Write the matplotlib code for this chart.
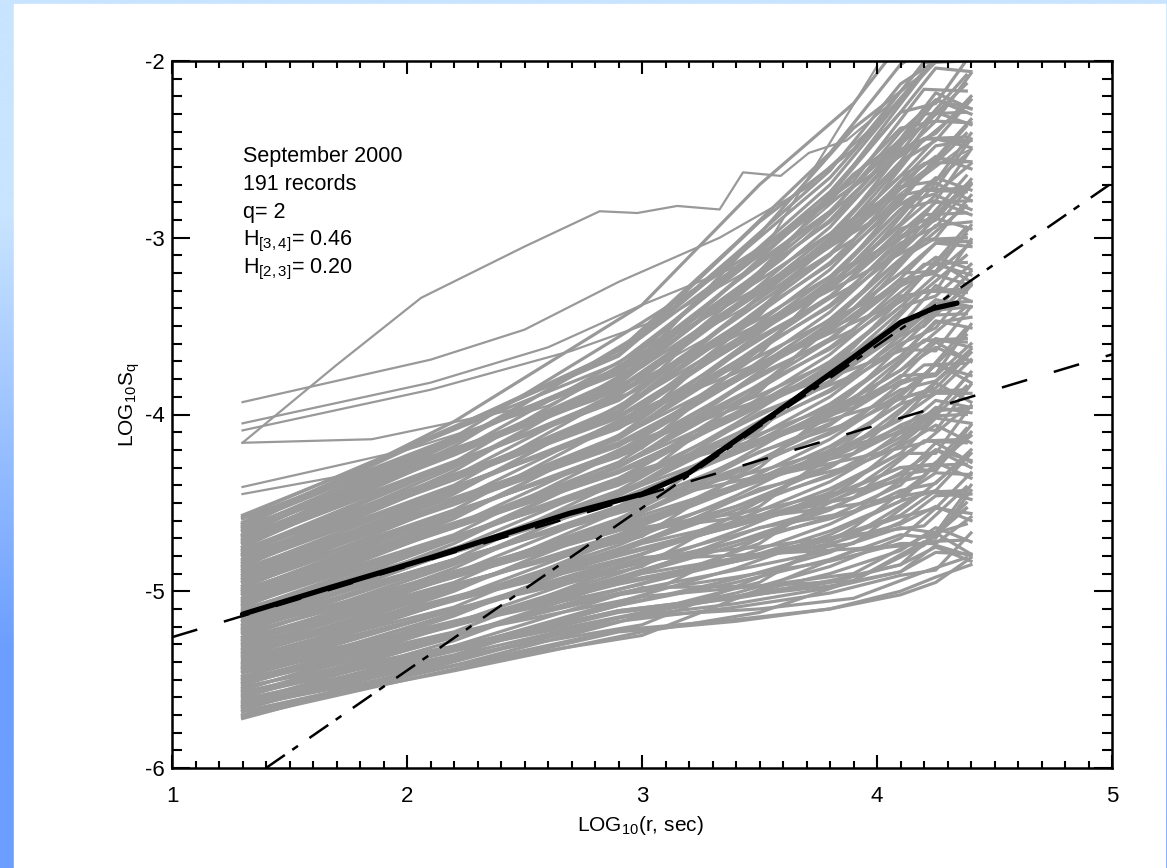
import matplotlib.pyplot as plt
import numpy as np
from matplotlib.patches import Rectangle

plt.rcParams["font.family"] = ["Liberation Sans", "DejaVu Sans"]
plt.rcParams["mathtext.fontset"] = "custom"
plt.rcParams["mathtext.rm"] = "Liberation Sans"
plt.rcParams["mathtext.it"] = "Liberation Sans:italic"
plt.rcParams["lines.scale_dashes"] = False
plt.rcParams["axes.unicode_minus"] = False

# Structure-function curves, LOG10 S_q read at these LOG10(r) knots
record_x = [1.3, 2.9, 3.4, 3.8, 4.1, 4.25, 4.4]

records_low = [
    [-5.72, -5.15, -5.01, -4.86, -4.70, -4.53, -4.56],
    [-5.71, -5.23, -5.17, -5.10, -5.02, -4.95, -4.81],
    [-5.70, -5.15, -5.03, -4.90, -4.77, -4.64, -4.72],
    [-5.68, -5.22, -5.16, -5.10, -5.00, -4.92, -4.85],
    [-5.67, -5.06, -4.87, -4.68, -4.49, -4.27, -4.36],
    [-5.66, -5.17, -5.09, -5.01, -4.91, -4.88, -4.67],
    [-5.65, -5.08, -4.93, -4.78, -4.61, -4.46, -4.45],
    [-5.64, -5.15, -5.07, -4.98, -4.89, -4.74, -4.80],
    [-5.63, -5.08, -4.95, -4.82, -4.68, -4.70, -4.43],
    [-5.62, -5.12, -5.04, -4.95, -4.85, -4.75, -4.83],
    [-5.60, -4.99, -4.81, -4.62, -4.43, -4.39, -4.20],
    [-5.59, -5.11, -5.03, -4.94, -4.85, -4.67, -4.79],
    [-5.58, -4.99, -4.83, -4.66, -4.49, -4.43, -4.22],
    [-5.57, -5.11, -5.03, -4.97, -4.89, -4.78, -4.79],
    [-5.56, -4.90, -4.66, -4.44, -4.22, -4.02, -4.05],
    [-5.55, -5.01, -4.88, -4.77, -4.64, -4.67, -4.40],
    [-5.53, -4.92, -4.72, -4.54, -4.33, -4.20, -4.26],
    [-5.52, -5.02, -4.92, -4.83, -4.73, -4.73, -4.58],
    [-5.51, -4.93, -4.74, -4.58, -4.40, -4.20, -4.30],
    [-5.50, -4.96, -4.83, -4.71, -4.58, -4.53, -4.33],
    [-5.49, -4.84, -4.60, -4.38, -4.15, -3.98, -3.96],
    [-5.48, -4.95, -4.82, -4.70, -4.57, -4.43, -4.48],
    [-5.46, -4.83, -4.62, -4.42, -4.22, -4.22, -3.95],
    [-5.45, -4.95, -4.83, -4.73, -4.62, -4.52, -4.60],
    [-5.44, -4.74, -4.46, -4.20, -3.94, -3.88, -3.69],
    [-5.43, -4.86, -4.68, -4.53, -4.36, -4.16, -4.27],
    [-5.42, -4.76, -4.52, -4.30, -4.06, -3.98, -3.76],
    [-5.41, -4.87, -4.72, -4.59, -4.46, -4.33, -4.34],
    [-5.40, -4.77, -4.54, -4.34, -4.13, -3.96, -3.99],
    [-5.38, -4.80, -4.63, -4.47, -4.30, -4.32, -4.06],
    [-5.37, -4.68, -4.40, -4.14, -3.88, -3.72, -3.78],
    [-5.36, -4.79, -4.62, -4.46, -4.30, -4.28, -4.12],
    [-5.35, -4.68, -4.42, -4.18, -3.94, -3.71, -3.82],
]

records_mid = [
    [-5.34, -4.79, -4.63, -4.49, -4.34, -4.31, -4.10],
    [-5.33, -4.59, -4.26, -3.96, -3.67, -3.48, -3.45],
    [-5.31, -4.70, -4.48, -4.29, -4.09, -3.92, -3.96],
    [-5.30, -4.60, -4.32, -4.06, -3.78, -3.77, -3.49],
    [-5.29, -4.71, -4.52, -4.35, -4.18, -4.06, -4.16],
    [-5.28, -4.61, -4.33, -4.10, -3.86, -3.81, -3.63],
    [-5.27, -4.65, -4.42, -4.23, -4.03, -3.82, -3.93],
    [-5.26, -4.52, -4.19, -3.90, -3.60, -3.51, -3.27],
    [-5.24, -4.64, -4.41, -4.22, -4.02, -3.88, -3.88],
    [-5.23, -4.52, -4.21, -3.94, -3.67, -3.47, -3.51],
    [-5.22, -4.63, -4.42, -4.25, -4.07, -4.09, -3.83],
    [-5.21, -4.43, -4.05, -3.72, -3.39, -3.21, -3.27],
    [-5.20, -4.54, -4.27, -4.05, -3.81, -3.78, -3.60],
    [-5.19, -4.45, -4.11, -3.82, -3.50, -3.27, -3.36],
    [-5.17, -4.55, -4.31, -4.11, -3.91, -3.85, -3.65],
    [-5.16, -4.46, -4.13, -3.86, -3.58, -3.41, -3.39],
    [-5.15, -4.49, -4.22, -3.99, -3.75, -3.57, -3.62],
    [-5.14, -4.37, -3.99, -3.66, -3.33, -3.30, -3.01],
    [-5.13, -4.48, -4.21, -3.98, -3.75, -3.62, -3.70],
    [-5.12, -4.36, -4.01, -3.70, -3.39, -3.33, -3.15],
    [-5.11, -4.48, -4.22, -4.01, -3.79, -3.59, -3.70],
    [-5.09, -4.27, -3.85, -3.48, -3.12, -3.00, -2.76],
    [-5.08, -4.39, -4.07, -3.81, -3.54, -3.37, -3.36],
    [-5.07, -4.29, -3.91, -3.58, -3.23, -3.03, -3.05],
    [-5.06, -4.40, -4.11, -3.87, -3.63, -3.64, -3.39],
    [-5.05, -4.30, -3.93, -3.62, -3.31, -3.15, -3.21],
    [-5.04, -4.33, -4.02, -3.75, -3.48, -3.43, -3.26],
    [-5.02, -4.21, -3.79, -3.42, -3.05, -2.79, -2.87],
    [-5.01, -4.32, -4.01, -3.74, -3.47, -3.40, -3.19],
    [-5.00, -4.21, -3.81, -3.46, -3.12, -2.93, -2.91],
    [-4.99, -4.32, -4.01, -3.77, -3.52, -3.35, -3.39],
    [-4.98, -4.12, -3.64, -3.24, -2.84, -2.79, -2.50],
    [-4.97, -4.23, -3.86, -3.57, -3.26, -3.11, -3.18],
]

records_high = [
    [-4.95, -4.13, -3.70, -3.34, -2.95, -2.88, -2.69],
    [-4.94, -4.24, -3.90, -3.63, -3.36, -3.13, -3.25],
    [-4.93, -4.14, -3.72, -3.38, -3.03, -2.94, -2.70],
    [-4.92, -4.18, -3.81, -3.51, -3.20, -3.03, -3.02],
    [-4.91, -4.05, -3.58, -3.18, -2.78, -2.55, -2.57],
    [-4.90, -4.17, -3.80, -3.50, -3.20, -3.19, -2.93],
    [-4.88, -4.05, -3.60, -3.22, -2.84, -2.66, -2.73],
    [-4.87, -4.16, -3.81, -3.53, -3.24, -3.20, -3.03],
    [-4.86, -3.96, -3.44, -3.00, -2.57, -2.29, -2.36],
    [-4.85, -4.07, -3.66, -3.33, -2.99, -2.90, -2.67],
    [-4.84, -3.98, -3.50, -3.10, -2.68, -2.48, -2.45],
    [-4.83, -4.08, -3.70, -3.39, -3.08, -2.89, -2.95],
    [-4.82, -3.99, -3.52, -3.14, -2.76, -2.72, -2.44],
    [-4.80, -4.02, -3.61, -3.27, -2.93, -2.76, -2.84],
    [-4.79, -3.89, -3.38, -2.94, -2.50, -2.41, -2.20],
    [-4.78, -4.01, -3.60, -3.26, -2.92, -2.69, -2.79],
    [-4.77, -3.89, -3.40, -2.98, -2.57, -2.45, -2.22],
    [-4.76, -4.01, -3.61, -3.29, -2.97, -2.80, -2.79],
    [-4.75, -3.80, -3.24, -2.76, -2.29, -2.04, -2.06],
    [-4.73, -3.92, -3.46, -3.09, -2.71, -2.68, -2.41],
    [-4.72, -3.82, -3.30, -2.86, -2.40, -2.22, -2.27],
    [-4.71, -3.92, -3.50, -3.15, -2.81, -2.75, -2.58],
    [-4.70, -3.83, -3.31, -2.90, -2.48, -2.22, -2.30],
    [-4.69, -3.86, -3.40, -3.03, -2.65, -2.55, -2.33],
    [-4.68, -3.74, -3.17, -2.70, -2.22, -2.00, -1.97],
    [-4.66, -3.85, -3.39, -3.02, -2.65, -2.44, -2.49],
    [-4.65, -3.74, -3.19, -2.74, -2.29, -2.24, -1.96],
    [-4.64, -3.85, -3.40, -3.05, -2.69, -2.54, -2.61],
    [-4.63, -3.64, -3.03, -2.52, -2.02, -1.90, -1.69],
    [-4.62, -3.76, -3.25, -2.85, -2.44, -2.18, -2.27],
    [-4.61, -3.66, -3.09, -2.62, -2.13, -2.00, -1.76],
    [-4.59, -3.77, -3.29, -2.91, -2.53, -2.34, -2.35],
    [-4.58, -3.67, -3.11, -2.66, -2.21, -1.98, -2.00],
    [-4.57, -3.71, -3.20, -2.79, -2.38, -2.34, -2.07],
]

# A second set of records, read at slightly different knots
record_x_b = [1.3, 2.2, 3.0, 3.5, 3.9, 4.2, 4.38]

records_b_low = [
    [-5.70, -5.42, -5.25, -4.99, -4.77, -4.73, -4.50],
    [-5.68, -5.45, -5.23, -5.12, -4.94, -4.74, -4.53],
    [-5.66, -5.37, -5.19, -4.92, -4.68, -4.63, -4.41],
    [-5.65, -5.42, -5.14, -5.10, -5.04, -4.89, -4.81],
    [-5.63, -5.28, -4.89, -4.64, -4.55, -4.29, -4.28],
    [-5.61, -5.36, -5.03, -4.97, -4.90, -4.69, -4.62],
    [-5.59, -5.26, -4.90, -4.79, -4.76, -4.73, -4.53],
    [-5.57, -5.33, -5.12, -4.95, -4.64, -4.35, -4.08],
    [-5.55, -5.24, -5.03, -4.70, -4.43, -4.35, -4.12],
    [-5.54, -5.31, -4.98, -4.97, -4.94, -4.72, -4.71],
    [-5.52, -5.14, -4.72, -4.42, -4.29, -4.01, -4.00],
    [-5.50, -5.23, -4.82, -4.79, -4.73, -4.44, -4.45],
    [-5.48, -5.13, -4.73, -4.58, -4.51, -4.44, -4.24],
    [-5.46, -5.19, -4.96, -4.73, -4.38, -4.06, -3.79],
    [-5.44, -5.10, -4.86, -4.49, -4.17, -4.07, -3.84],
    [-5.43, -5.18, -4.81, -4.75, -4.68, -4.44, -4.43],
    [-5.41, -5.00, -4.55, -4.21, -4.04, -3.72, -3.71],
    [-5.39, -5.09, -4.65, -4.57, -4.47, -4.15, -4.16],
    [-5.37, -4.99, -4.57, -4.36, -4.25, -4.16, -3.96],
    [-5.35, -5.05, -4.79, -4.52, -4.13, -3.78, -3.51],
    [-5.33, -4.96, -4.69, -4.27, -3.92, -3.78, -3.55],
    [-5.32, -5.04, -4.64, -4.54, -4.42, -4.15, -4.14],
    [-5.30, -4.87, -4.38, -3.99, -3.78, -3.44, -3.43],
    [-5.28, -4.95, -4.49, -4.35, -4.22, -3.87, -3.88],
    [-5.26, -4.85, -4.40, -4.15, -3.99, -3.87, -3.67],
    [-5.24, -4.92, -4.62, -4.30, -3.87, -3.49, -3.22],
    [-5.22, -4.82, -4.52, -4.06, -3.66, -3.50, -3.27],
    [-5.21, -4.90, -4.47, -4.32, -4.17, -3.87, -3.86],
    [-5.19, -4.73, -4.22, -3.77, -3.52, -3.15, -3.14],
    [-5.17, -4.82, -4.32, -4.14, -3.96, -3.58, -3.59],
]

records_b_high = [
    [-5.15, -4.71, -4.23, -3.93, -3.74, -3.59, -3.39],
    [-5.13, -4.78, -4.45, -4.09, -3.62, -3.21, -2.94],
    [-5.11, -4.69, -4.35, -3.84, -3.40, -3.21, -2.98],
    [-5.10, -4.76, -4.31, -4.11, -3.91, -3.58, -3.57],
    [-5.08, -4.59, -4.05, -3.56, -3.27, -2.87, -2.86],
    [-5.06, -4.68, -4.15, -3.92, -3.71, -3.30, -3.31],
    [-5.04, -4.58, -4.06, -3.72, -3.48, -3.30, -3.10],
    [-5.02, -4.64, -4.28, -3.87, -3.36, -2.92, -2.65],
    [-5.00, -4.55, -4.19, -3.63, -3.15, -2.93, -2.70],
    [-4.99, -4.63, -4.14, -3.89, -3.65, -3.30, -3.29],
    [-4.97, -4.45, -3.88, -3.34, -3.01, -2.58, -2.57],
    [-4.95, -4.54, -3.98, -3.71, -3.45, -3.01, -3.02],
    [-4.93, -4.44, -3.89, -3.50, -3.23, -3.02, -2.82],
    [-4.91, -4.51, -4.12, -3.66, -3.10, -2.64, -2.37],
    [-4.89, -4.41, -4.02, -3.41, -2.89, -2.64, -2.41],
    [-4.88, -4.49, -3.97, -3.67, -3.40, -3.01, -3.00],
    [-4.86, -4.32, -3.71, -3.13, -2.76, -2.30, -2.29],
    [-4.84, -4.40, -3.81, -3.49, -3.19, -2.73, -2.74],
    [-4.82, -4.30, -3.73, -3.29, -2.97, -2.73, -2.53],
    [-4.80, -4.37, -3.95, -3.44, -2.85, -2.35, -2.08],
    [-4.79, -4.28, -3.85, -3.19, -2.64, -2.36, -2.13],
    [-4.77, -4.35, -3.80, -3.46, -3.14, -2.73, -2.72],
    [-4.75, -4.18, -3.54, -2.91, -2.50, -2.01, -2.00],
    [-4.73, -4.27, -3.65, -3.28, -2.94, -2.44, -2.45],
    [-4.71, -4.16, -3.56, -3.07, -2.71, -2.45, -2.25],
    [-4.69, -4.23, -3.78, -3.23, -2.59, -2.07, -1.80],
    [-4.68, -4.14, -3.68, -2.98, -2.38, -2.07, -1.84],
    [-4.66, -4.22, -3.63, -3.24, -2.89, -2.44, -2.43],
    [-4.64, -4.04, -3.38, -2.70, -2.24, -1.73, -1.72],
    [-4.62, -4.13, -3.48, -3.06, -2.68, -2.16, -2.17],
]

# Isolated records running above the main bundle
upper_records = [
    ([1.3, 1.7, 2.06, 2.5, 2.82, 2.98, 3.15, 3.33, 3.43, 3.59, 3.71, 3.87, 4.04, 4.21],
     [-4.16, -3.72, -3.34, -3.05, -2.85, -2.86, -2.82, -2.84, -2.63, -2.65, -2.52, -2.45, -2.26, -2.0]),
    ([1.3, 2.1, 2.5, 2.9, 3.33, 3.7, 4.0, 4.2],
     [-3.93, -3.69, -3.52, -3.25, -3.0, -2.72, -2.35, -2.0]),
    ([1.3, 2.1, 2.6, 3.0, 3.5, 4.0],
     [-4.05, -3.82, -3.62, -3.38, -3.11, -2.03]),
    ([1.3, 2.1, 2.7, 3.1, 3.5, 3.9, 4.3],
     [-4.09, -3.86, -3.64, -3.45, -3.15, -2.7, -2.25]),
    ([1.3, 1.85, 2.5, 3.0, 3.5, 4.0, 4.4],
     [-4.16, -4.14, -3.96, -3.72, -3.35, -2.85, -2.45]),
    ([1.3, 2.0, 2.6, 3.1, 3.6, 4.0, 4.3],
     [-4.41, -4.2, -3.95, -3.62, -3.12, -2.62, -2.15]),
    ([1.3, 2.0, 2.8, 3.3, 3.8, 4.2, 4.4],
     [-4.45, -4.28, -3.92, -3.55, -3.02, -2.62, -2.5]),
]

# Ensemble mean
mean_x = [1.3, 1.67, 2.1, 2.69, 3.0, 3.2, 3.33, 3.59, 3.885, 4.1, 4.24, 4.34]
mean_y = [-5.13, -4.98, -4.81, -4.56, -4.45, -4.33, -4.21, -3.97, -3.69, -3.48, -3.40, -3.37]

# Power-law fits (slope 2H)
fit_23_x = [1.0, 5.0]
fit_23_y = [-5.26, -3.66]
fit_34_x = [1.4, 5.0]
fit_34_y = [-6.0, -2.69]

info_lines = [
    "September 2000",
    "191 records",
    "q= 2",
    r"H$_{\mathrm{[3,4]}}$= 0.46",
    r"H$_{\mathrm{[2,3]}}$= 0.20",
]

W, H = 1167, 868
fig = plt.figure(figsize=(W / 100, H / 100), dpi=100)

# blue frame with vertical gradient
bg = fig.add_axes([0, 0, 1, 1])
grad = np.array([[[200, 228, 255]], [[108, 158, 255]]]) / 255.0
bg.imshow(grad, extent=[0, 1, 0, 1], aspect="auto", interpolation="bilinear")
bg.add_patch(Rectangle((14 / W, 0), (1165 - 14) / W, (H - 4) / H, color="white"))
bg.set_xlim(0, 1)
bg.set_ylim(0, 1)
bg.axis("off")

ax = fig.add_axes([172 / W, 1 - 768 / H, 940 / W, 707 / H])
gray = "#999999"
for row in records_low + records_mid + records_high:
    ax.plot(record_x, row, color=gray, lw=2.3, zorder=1)
for row in records_b_low + records_b_high:
    ax.plot(record_x_b, row, color=gray, lw=2.3, zorder=1)
for xs, ys in upper_records:
    ax.plot(xs, ys, color=gray, lw=1.6, zorder=1)

ax.plot(fit_23_x, fit_23_y, color="black", lw=1.8, dashes=[19, 20], zorder=2)
ax.plot(mean_x, mean_y, color="black", lw=3.8, solid_capstyle="round", zorder=3)
ax.plot(fit_34_x, fit_34_y, color="black", lw=1.8, dashes=[16.5, 6.5, 5, 10], zorder=4)

for i, line in enumerate(info_lines):
    ax.text(0.0755, 0.857 - i * 0.0392, line, transform=ax.transAxes,
            fontsize=15.5, va="baseline", ha="left")

ax.set_xlim(1, 5)
ax.set_ylim(-6, -2)
ax.set_xticks([1, 2, 3, 4, 5])
ax.set_yticks([-6, -5, -4, -3, -2])
ax.set_xticks(np.arange(1, 5.01, 0.1), minor=True)
ax.set_yticks(np.arange(-6, -1.99, 0.1), minor=True)
ax.tick_params(which="both", direction="in", top=True, right=True, width=1.5, labelsize=16)
ax.tick_params(axis="x", which="major", length=9.5, pad=13)
ax.tick_params(axis="x", which="minor", length=5)
ax.tick_params(axis="y", which="major", length=13, pad=5)
ax.tick_params(axis="y", which="minor", length=7.5)
for s in ax.spines.values():
    s.set_linewidth(1.8)

ax.set_xlabel(r"LOG$_{\mathrm{10}}$(r, sec)", fontsize=15)
ax.set_ylabel(r"LOG$_{\mathrm{10}}$S$_{\mathrm{q}}$", fontsize=15)
ax.xaxis.set_label_coords(0.498, -0.082)
ax.yaxis.set_label_coords(-0.045, 0.513)
ax.xaxis.label.set_va("center")
ax.yaxis.label.set_va("center")

fig.savefig("out.png", dpi=100)
